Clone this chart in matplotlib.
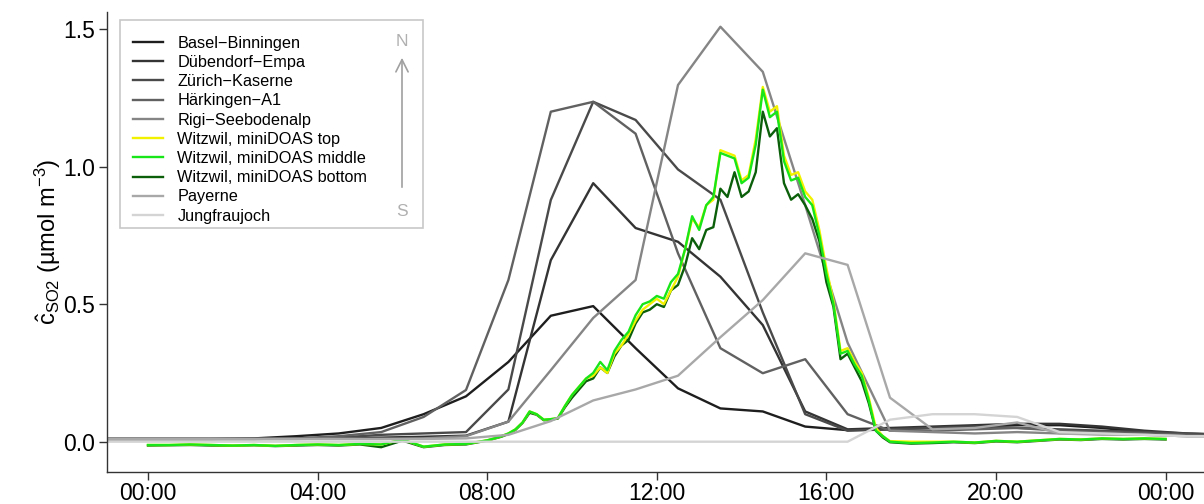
import matplotlib
matplotlib.use("Agg")
import matplotlib.pyplot as plt
from matplotlib.patches import Rectangle

plt.rcParams["font.family"] = ["Liberation Sans", "DejaVu Sans"]
plt.rcParams["mathtext.fontset"] = "custom"
plt.rcParams["mathtext.rm"] = "Liberation Sans"
plt.rcParams["mathtext.it"] = "Liberation Sans:italic"

# hourly station means, plotted at half past the hour
hours = [-1.5, -0.5, 0.5, 1.5, 2.5, 3.5, 4.5, 5.5, 6.5, 7.5, 8.5, 9.5, 10.5, 11.5,
         12.5, 13.5, 14.5, 15.5, 16.5, 17.5, 18.5, 19.5, 20.5, 21.5, 22.5, 23.5, 24.5, 25.5]

basel = [0.01, 0.01, 0.01, 0.01, 0.012, 0.02, 0.03, 0.05, 0.10, 0.165, 0.29, 0.458, 0.493, 0.34,
         0.194, 0.121, 0.11, 0.055, 0.042, 0.045, 0.05, 0.055, 0.06, 0.06, 0.05, 0.035, 0.025, 0.02]
duebendorf = [0.01, 0.01, 0.01, 0.01, 0.01, 0.01, 0.012, 0.015, 0.018, 0.022, 0.073, 0.66, 0.94, 0.777,
              0.727, 0.60, 0.424, 0.11, 0.045, 0.05, 0.055, 0.06, 0.065, 0.065, 0.055, 0.04, 0.03, 0.025]
zuerich = [0.01, 0.01, 0.01, 0.01, 0.01, 0.012, 0.015, 0.025, 0.03, 0.035, 0.19, 0.879, 1.236, 1.17,
           0.99, 0.88, 0.47, 0.10, 0.04, 0.045, 0.05, 0.055, 0.05, 0.045, 0.04, 0.035, 0.03, 0.025]
haerkingen = [0.01, 0.01, 0.01, 0.01, 0.01, 0.012, 0.02, 0.035, 0.09, 0.188, 0.588, 1.2, 1.236, 1.12,
              0.685, 0.34, 0.249, 0.30, 0.10, 0.04, 0.04, 0.045, 0.05, 0.04, 0.035, 0.03, 0.025, 0.02]
rigi = [0.01, 0.01, 0.01, 0.01, 0.01, 0.01, 0.01, 0.01, 0.012, 0.02, 0.073, 0.26, 0.45, 0.588,
        1.297, 1.509, 1.345, 0.86, 0.36, 0.04, 0.035, 0.03, 0.035, 0.03, 0.03, 0.025, 0.02, 0.02]
payerne = [0.01, 0.01, 0.01, 0.01, 0.01, 0.01, 0.01, 0.01, 0.01, 0.012, 0.025, 0.075, 0.15, 0.19,
           0.24, 0.38, 0.515, 0.685, 0.643, 0.16, 0.045, 0.05, 0.07, 0.03, 0.025, 0.025, 0.02, 0.02]
jungfraujoch = [0.0, 0.0, 0.0, 0.0, 0.0, 0.0, 0.0, 0.0, 0.0, 0.0, 0.0, 0.0, 0.0, 0.0,
                0.0, 0.0, 0.0, 0.0, 0.0, 0.08, 0.1, 0.1, 0.09, 0.035, 0.03, 0.025, 0.02, 0.02]

# miniDOAS Witzwil, minutes after midnight
wz_min = list(range(0, 480, 30)) + list(range(480, 1051, 10)) + list(range(1080, 1441, 30))

wz_top = [-0.012, -0.012, -0.010, -0.012, -0.014, -0.012, -0.015, -0.012, -0.010, -0.012, -0.008, -0.010,
          0.008, -0.018, -0.010, -0.008,
          0.005, 0.012, 0.02, 0.03, 0.045, 0.07,
          0.11, 0.10, 0.08, 0.082, 0.086, 0.13,
          0.17, 0.20, 0.23, 0.24, 0.27, 0.25,
          0.32, 0.35, 0.39, 0.44, 0.48, 0.50,
          0.52, 0.50, 0.55, 0.60, 0.70, 0.81,
          0.78, 0.86, 0.88, 1.06, 1.05, 1.04,
          0.95, 0.97, 1.10, 1.29, 1.20, 1.22,
          1.04, 0.97, 0.98, 0.91, 0.88, 0.77,
          0.63, 0.51, 0.33, 0.34, 0.29, 0.25,
          0.16, 0.05, 0.02, 0.002,
          0.0, 0.0, 0.0, -0.003, 0.003, 0.0, 0.005, 0.01, 0.008, 0.012, 0.01, 0.012, 0.01]
wz_middle = [-0.012, -0.012, -0.010, -0.012, -0.014, -0.012, -0.015, -0.012, -0.010, -0.012, -0.008, -0.010,
             0.008, -0.018, -0.010, -0.008,
             0.005, 0.012, 0.02, 0.03, 0.045, 0.07,
             0.11, 0.10, 0.08, 0.082, 0.086, 0.13,
             0.17, 0.20, 0.23, 0.25, 0.29, 0.26,
             0.33, 0.37, 0.40, 0.46, 0.50, 0.51,
             0.53, 0.52, 0.58, 0.61, 0.70, 0.82,
             0.77, 0.86, 0.89, 1.05, 1.04, 1.03,
             0.94, 0.96, 1.08, 1.28, 1.18, 1.20,
             1.02, 0.95, 0.96, 0.89, 0.86, 0.75,
             0.61, 0.50, 0.32, 0.33, 0.28, 0.24,
             0.15, 0.04, 0.02, 0.0,
             -0.005, -0.003, 0.0, -0.003, 0.003, 0.0, 0.005, 0.01, 0.008, 0.012, 0.01, 0.012, 0.01]
wz_bottom = [-0.014, -0.013, -0.012, -0.014, -0.015, -0.013, -0.016, -0.014, -0.012, -0.014, -0.010, -0.020,
             0.004, -0.020, -0.012, -0.010,
             0.004, 0.011, 0.018, 0.028, 0.043, 0.068,
             0.105, 0.098, 0.078, 0.08, 0.084, 0.125,
             0.16, 0.19, 0.22, 0.23, 0.27, 0.25,
             0.31, 0.35, 0.37, 0.43, 0.47, 0.48,
             0.50, 0.49, 0.55, 0.57, 0.64, 0.74,
             0.70, 0.77, 0.78, 0.92, 0.89, 0.98,
             0.89, 0.91, 0.98, 1.20, 1.11, 1.14,
             0.94, 0.88, 0.90, 0.86, 0.81, 0.73,
             0.58, 0.49, 0.30, 0.32, 0.27, 0.22,
             0.14, 0.04, 0.015, -0.002,
             -0.007, -0.005, -0.002, -0.005, 0.001, -0.002, 0.003, 0.008, 0.006, 0.01, 0.008, 0.01, 0.008]

tick_hours = [0, 4, 8, 12, 16, 20, 24]
tick_labels = ["00:00", "04:00", "08:00", "12:00", "16:00", "20:00", "00:00"]

W, H = 1204, 504


def fx(px):
    return px / W


def fy(py):
    return 1 - py / H


fig = plt.figure(figsize=(W / 100, H / 100), dpi=100)
ax = fig.add_axes([fx(107), fy(472), 1 - fx(107), fy(12) - fy(472)])

lw = 1.7
wz_h = [m / 60 for m in wz_min]
ax.plot(hours, basel, color="#1e1e1e", lw=lw, label="Basel\u2212Binningen")
ax.plot(hours, duebendorf, color="#343434", lw=lw, label="Dübendorf\u2212Empa")
ax.plot(hours, zuerich, color="#4a4a4a", lw=lw, label="Zürich\u2212Kaserne")
ax.plot(hours, haerkingen, color="#616161", lw=lw, label="Härkingen\u2212A1")
ax.plot(hours, rigi, color="#858585", lw=lw, label="Rigi\u2212Seebodenalp")
ax.plot(wz_h, wz_bottom, color="#0b5f0b", lw=lw, label="Witzwil, miniDOAS bottom")
ax.plot(wz_h, wz_top, color="#f2f200", lw=lw, label="Witzwil, miniDOAS top")
ax.plot(wz_h, wz_middle, color="#19e619", lw=lw, label="Witzwil, miniDOAS middle")
ax.plot(hours, payerne, color="#a8a8a8", lw=lw, label="Payerne")
ax.plot(hours, jungfraujoch, color="#d4d4d4", lw=lw, label="Jungfraujoch")

ax.set_xlim((107 - 148) / 42.4, (1204 - 148) / 42.4)
ax.set_ylim((441.7 - 472) / 275, (441.7 - 12) / 275)
ax.set_xticks(tick_hours)
ax.set_xticklabels(tick_labels)
ax.set_yticks([0.0, 0.5, 1.0, 1.5])
ax.set_yticklabels(["0.0", "0.5", "1.0", "1.5"])
ax.tick_params(labelsize=16.5, length=5.5, width=1.0, color="#333333", pad=3)
ax.tick_params(axis="x", pad=1.5)
for s in ["top", "right"]:
    ax.spines[s].set_visible(False)
for s in ["left", "bottom"]:
    ax.spines[s].set_color("#333333")
    ax.spines[s].set_linewidth(1.0)
ax.set_ylabel(r"$\hat{\mathrm{c}}_{\mathrm{SO2}}$ (µmol m$^{-3}$)", fontsize=17, labelpad=0)

# legend with framed box and north-south arrow
ax.add_patch(Rectangle((fx(120), fy(228)), fx(423) - fx(120), fy(20) - fy(228),
                       transform=fig.transFigure, facecolor="white", edgecolor="#c8c8c8",
                       lw=1.2, zorder=4, clip_on=False))
handles, labels = ax.get_legend_handles_labels()
order = ["Basel\u2212Binningen", "Dübendorf\u2212Empa", "Zürich\u2212Kaserne", "Härkingen\u2212A1",
         "Rigi\u2212Seebodenalp", "Witzwil, miniDOAS top", "Witzwil, miniDOAS middle",
         "Witzwil, miniDOAS bottom", "Payerne", "Jungfraujoch"]
hmap = dict(zip(labels, handles))
leg = ax.legend([hmap[k] for k in order], order, loc="upper left",
                bbox_to_anchor=(fx(118), fy(21)), bbox_transform=fig.transFigure,
                frameon=False, fontsize=11.7, handlelength=1.85, handletextpad=0.9,
                labelspacing=0.26, borderpad=0.4)
leg.set_zorder(5)

ax.text(fx(402), fy(42), "N", transform=fig.transFigure, ha="center", va="center",
        fontsize=12.5, color="#b0b0b0", zorder=6)
ax.text(fx(402), fy(211), "S", transform=fig.transFigure, ha="center", va="center",
        fontsize=12.5, color="#b0b0b0", zorder=6)
ax.annotate("", xy=(fx(402), fy(55)), xytext=(fx(402), fy(190)),
            xycoords="figure fraction", textcoords="figure fraction",
            arrowprops=dict(arrowstyle="->", color="#a0a0a0", lw=1.2, mutation_scale=22),
            zorder=6)

fig.savefig("out.png", dpi=100)
